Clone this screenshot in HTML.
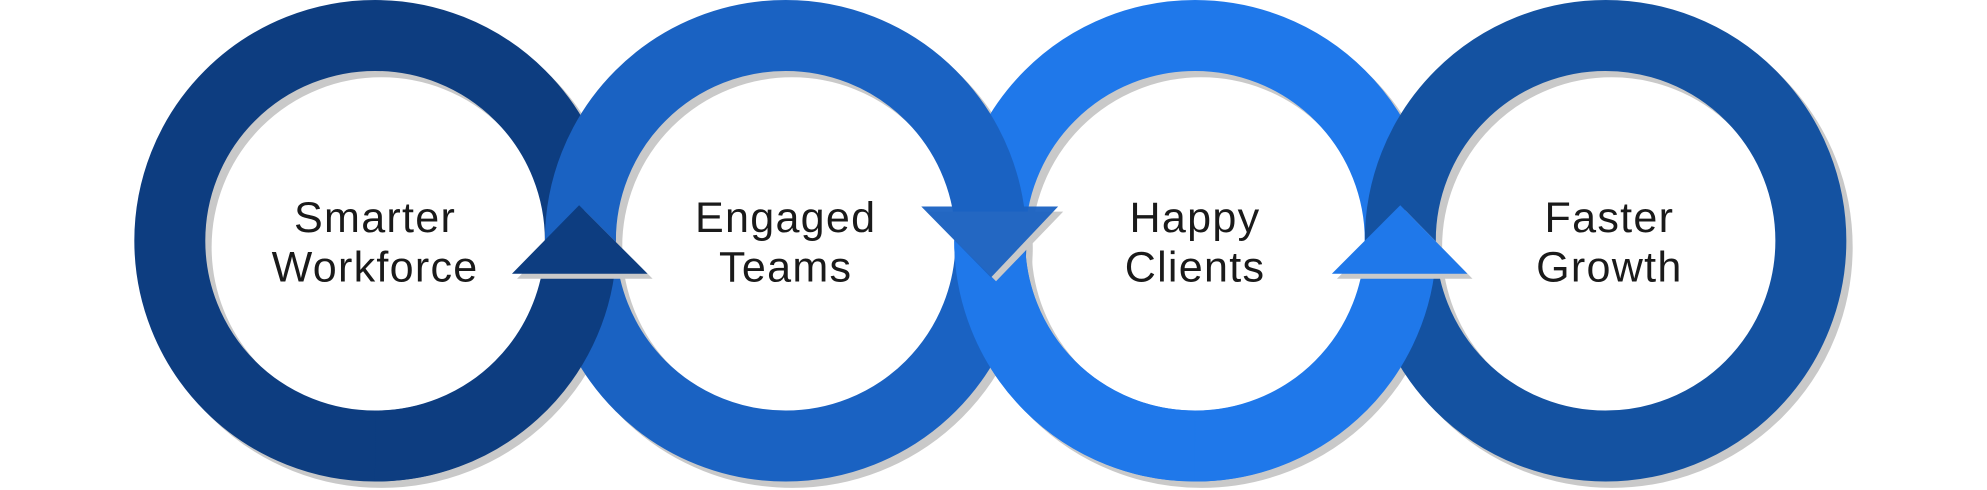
<!DOCTYPE html>
<html><head><meta charset="utf-8"><style>
html,body{margin:0;padding:0;background:#fff;width:1987px;height:490px;overflow:hidden}
svg{display:block}
text{font-family:"Liberation Sans",sans-serif;font-size:34px;fill:#1a1a1a;text-anchor:middle;letter-spacing:1px}
</style></head><body>
<svg width="1987" height="490" viewBox="0 0 1568 386.7" preserveAspectRatio="none">
<g fill="none" stroke="#c9c9c9" stroke-width="56">
<circle cx="301" cy="195" r="162"/>
<circle cx="625" cy="195" r="162"/>
<circle cx="948" cy="195" r="162"/>
<circle cx="1272" cy="195" r="162"/>
</g>
<g fill="none" stroke-width="56">
<circle cx="296" cy="190" r="162" stroke="#0d3d80"/>
<circle cx="943" cy="190" r="162" stroke="#1f78ea"/>
<circle cx="620" cy="190" r="162" stroke="#1a62c2"/>
<circle cx="1267" cy="190" r="162" stroke="#1452a1"/>
<path d="M458,205 A162,162 0 0 1 296,352" stroke="#0d3d80"/>
<path d="M943,352 A162,162 0 0 1 781,190" stroke="#1f78ea"/>
<path d="M1105,205 A162,162 0 0 1 943,352" stroke="#1f78ea"/>
</g>
<polygon points="408,220 461,166 515,220" fill="#c9c9c9"/>
<polygon points="1055,220 1109,166 1162,220" fill="#c9c9c9"/>
<polygon points="731,167 839,167 786,222" fill="#c9c9c9"/>
<polygon points="404,216 457,162 511,216" fill="#0d3d80"/>
<polygon points="727,163 835,163 782,219" fill="#1a62c2" fill-opacity="0.95"/>
<polygon points="1051,216 1105,162 1158,216" fill="#1f78ea"/>
<text x="296" y="183">Smarter</text><text x="296" y="222">Workforce</text>
<text x="620" y="183">Engaged</text><text x="620" y="222">Teams</text>
<text x="943" y="183">Happy</text><text x="943" y="222">Clients</text>
<text x="1270" y="183">Faster</text><text x="1270" y="222">Growth</text>
</svg>
</body></html>
